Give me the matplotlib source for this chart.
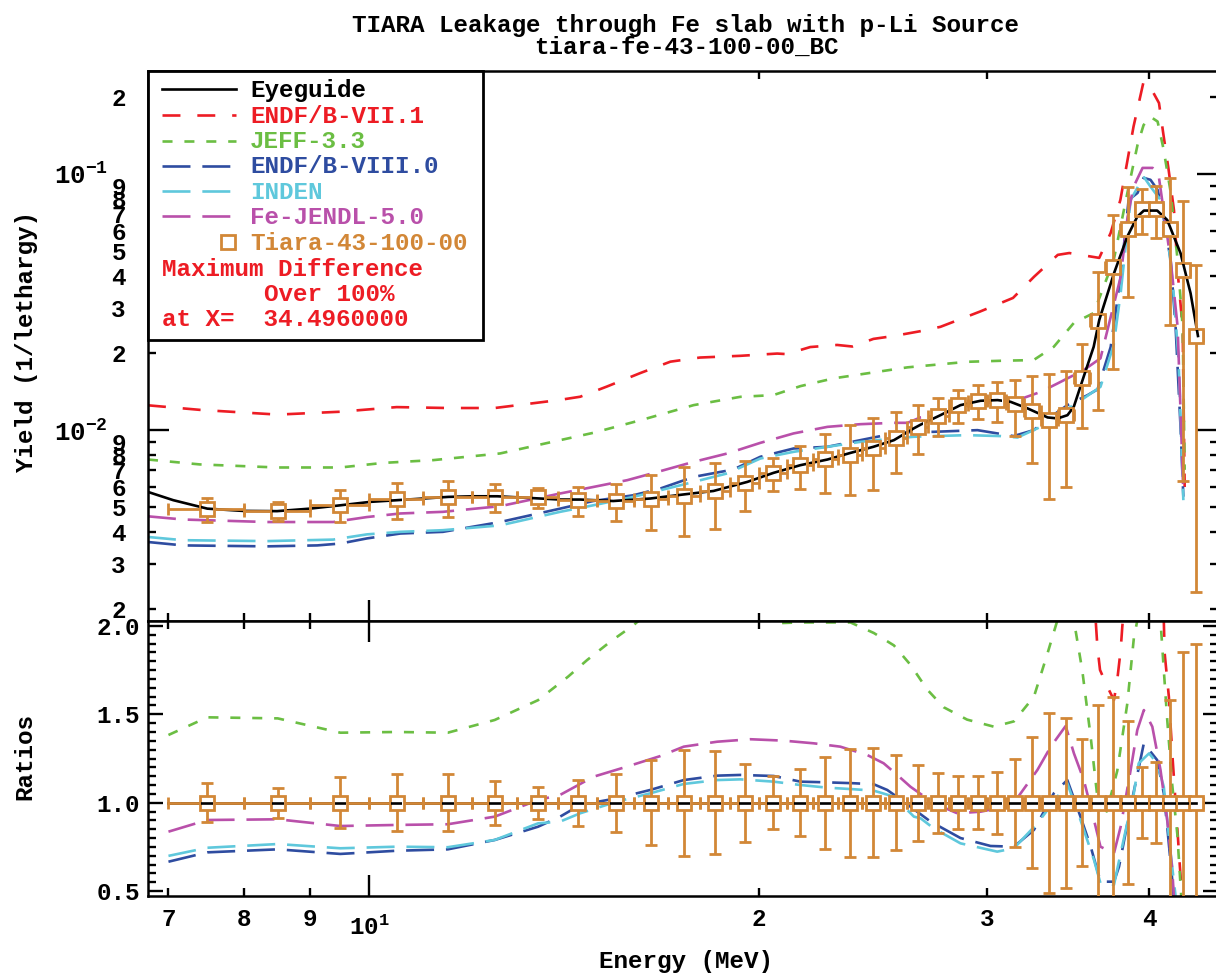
import numpy as np
import matplotlib
matplotlib.use("Agg")
import matplotlib.pyplot as plt
from matplotlib.ticker import FixedLocator, FixedFormatter, MultipleLocator, FormatStrFormatter
from matplotlib.patches import Rectangle
from matplotlib.path import Path
from matplotlib.transforms import IdentityTransform

plt.rcParams["font.family"] = ["Liberation Mono", "DejaVu Sans Mono"]
plt.rcParams["font.weight"] = "bold"
plt.rcParams["mathtext.fontset"] = "custom"
plt.rcParams["mathtext.rm"] = "Liberation Mono:bold"
plt.rcParams["mathtext.it"] = "Liberation Mono:bold"
plt.rcParams["mathtext.bf"] = "Liberation Mono:bold"
plt.rcParams["mathtext.default"] = "rm"

# ---------------- data ----------------
# experiment: Tiara-43-100-00, 1 MeV bins
exp_e = [7.5, 8.5, 9.5, 10.5, 11.5, 12.5, 13.5, 14.5, 15.5, 16.5, 17.5, 18.5, 19.5,
         20.5, 21.5, 22.5, 23.5, 24.5, 25.5, 26.5, 27.5, 28.5, 29.5, 30.5, 31.5, 32.5,
         33.5, 34.5, 35.5, 36.5, 37.5, 38.5, 39.5, 40.5, 41.5, 42.5, 43.5]
exp_y = [0.00491, 0.00483, 0.00512, 0.00538, 0.00547, 0.00550, 0.00547, 0.00533, 0.00528,
         0.00538, 0.00552, 0.00578, 0.00621, 0.00679, 0.00730, 0.00770, 0.00800, 0.00850,
         0.00930, 0.01030, 0.01140, 0.01250, 0.01300, 0.01310, 0.01260, 0.01185, 0.01095,
         0.01150, 0.01600, 0.02670, 0.04330, 0.06100, 0.07300, 0.07300, 0.06100, 0.04220,
         0.02330]
exp_err_pct = [11, 8.5, 14.5, 16, 16, 12.5, 9, 13, 16.5, 24, 30, 29, 22, 15, 19, 26, 30.5,
               31, 27, 21.5, 17, 15, 15, 17.5, 25, 37, 51, 48, 36, 55, 60, 46, 20, 23, 58,
               85, 90]
exp_half_bin = 0.5

# eyeguide
eye_e = [6.75, 7.06, 7.5, 7.99, 8.49, 9.0, 9.5, 10.02, 10.51, 11.01, 11.51, 12.03, 12.56,
         14.04, 14.55, 15.43, 16.48, 17.48, 18.44, 19.58, 20.51, 21.52, 22.58, 23.52, 24.5,
         25.41, 26.31, 26.64, 27.6, 28.6, 29.64, 30.55, 31.26, 32.22, 33.39, 33.99, 34.59,
         34.98, 35.6, 36.24, 36.6, 37.57, 38.47, 39.16, 39.62, 40.57, 41.3, 42.29, 43.05,
         43.62]
eye_y = [0.00574, 0.00533, 0.00494, 0.00484, 0.00483, 0.00494, 0.00509, 0.00525, 0.00533,
         0.00541, 0.00549, 0.00552, 0.00552, 0.00536, 0.00536, 0.00529, 0.00541, 0.00561,
         0.00579, 0.00628, 0.00681, 0.0073, 0.00768, 0.00815, 0.00861, 0.00914, 0.01015,
         0.0105, 0.01144, 0.01252, 0.01302, 0.0131, 0.0129, 0.01216, 0.01121, 0.01111,
         0.01144, 0.01233, 0.01615, 0.02115, 0.0269, 0.0409, 0.0569, 0.0681, 0.0719, 0.0719,
         0.0661, 0.049, 0.0342, 0.0233]

# calculations, upper panel
endf71_e = [6.75, 7.4, 8.5, 9.5, 10.5, 11.5, 12.5, 14.0, 14.55, 15.26, 16.19, 17.08, 18.0,
            19.34, 20.65, 21.0, 21.9, 22.97, 23.6, 24.5, 25.4, 26.6, 27.6, 29.6, 31.4, 32.6,
            34.0, 34.7, 36.6, 37.35, 38.0, 38.9, 39.6, 40.3, 40.7, 41.0, 41.4, 41.8, 42.1,
            42.45, 42.6]
endf71_y = [0.0125, 0.0120, 0.0115, 0.0118, 0.0123, 0.0122, 0.0122, 0.0131, 0.0135, 0.0148,
            0.0167, 0.0185, 0.0192, 0.0195, 0.0199, 0.0198, 0.0211, 0.0215, 0.0212, 0.0227,
            0.0233, 0.0243, 0.0253, 0.0290, 0.0328, 0.0397, 0.0483, 0.0491, 0.0470, 0.0588,
            0.0791, 0.153, 0.229, 0.207, 0.189, 0.145, 0.104, 0.072, 0.040, 0.025, 0.006]

jeff_e = [6.75, 7.4, 8.49, 9.5, 10.25, 11.21, 12.62, 14.04, 14.89, 16.28, 17.8, 19.34, 20.51,
          21.52, 22.82, 24.68, 26.03, 28.95, 30.72, 32.57, 33.76, 34.98, 36.24, 37.55, 38.49,
          39.18, 39.6, 40.09, 40.6, 41.03, 41.55, 42.07, 42.45, 42.6]
jeff_y = [0.00768, 0.00735, 0.00715, 0.00715, 0.00745, 0.00764, 0.00811, 0.00914, 0.00976,
          0.01101, 0.01252, 0.01349, 0.0137, 0.01485, 0.01592, 0.01689, 0.01758, 0.01848,
          0.01865, 0.01877, 0.02115, 0.02618, 0.02864, 0.046, 0.085, 0.13, 0.155, 0.167,
          0.160, 0.125, 0.085, 0.046, 0.0253, 0.007]

endf80_e = [6.75, 7.184, 8.34, 9.118, 9.5, 9.96, 10.57, 11.4, 12.62, 14.04, 14.89, 15.99,
            16.78, 17.8, 19.1, 20.04, 21.26, 22.58, 23.94, 25.41, 26.31, 27.26, 29.48, 31.43,
            32.57, 33.58, 34.59, 35.85, 36.49, 37.35, 38.02, 38.56, 39.18, 39.6, 40.09, 40.6,
            41.03, 41.55, 41.92, 42.3, 42.5]
endf80_y = [0.00366, 0.00355, 0.00352, 0.00355, 0.00361, 0.00378, 0.00395, 0.00401, 0.00438,
            0.00494, 0.00529, 0.00557, 0.00592, 0.00657, 0.00702, 0.00787, 0.00848, 0.00861,
            0.00914, 0.00971, 0.00985, 0.00985, 0.0100, 0.00948, 0.0100, 0.01127, 0.01252,
            0.0137, 0.01442, 0.0211, 0.0396, 0.0791, 0.0843, 0.0965, 0.0948, 0.0866, 0.0679,
            0.0461, 0.0253, 0.0100, 0.0055]

inden_e = [6.75, 7.184, 8.34, 9.38, 9.96, 10.57, 11.4, 12.62, 14.04, 14.89, 15.99, 16.99,
           17.8, 18.9, 20.04, 21.26, 22.58, 23.94, 25.41, 26.31, 27.26, 28.95, 30.72, 31.65,
           32.98, 34.17, 35.6, 36.68, 37.55, 38.02, 38.7, 39.6, 40.09, 40.81, 41.32, 41.77,
           42.14, 42.5]
inden_y = [0.00383, 0.00372, 0.00369, 0.00374, 0.00392, 0.00401, 0.00407, 0.00425, 0.0048,
           0.00509, 0.00549, 0.00592, 0.00628, 0.00678, 0.00775, 0.00823, 0.00861, 0.009,
           0.00928, 0.00942, 0.00948, 0.00956, 0.00948, 0.00936, 0.0103, 0.01162, 0.0133,
           0.01476, 0.0215, 0.0343, 0.0791, 0.0976, 0.0892, 0.0791, 0.0588, 0.0343, 0.0188,
           0.00533]

jendl_e = [6.75, 7.184, 8.34, 9.38, 9.96, 10.57, 11.4, 12.62, 14.04, 14.89, 15.82, 16.78,
           17.8, 18.9, 20.04, 21.26, 22.58, 23.94, 25.41, 26.03, 26.64, 27.26, 28.95, 30.33,
           31.65, 32.98, 33.99, 35.6, 36.68, 37.14, 38.02, 38.49, 38.9, 39.53, 40.24, 40.67,
           41.03, 41.55, 42.07, 42.5]
jendl_y = [0.00461, 0.00448, 0.00438, 0.00438, 0.00458, 0.00473, 0.0048, 0.00505, 0.00566,
           0.006, 0.00638, 0.00692, 0.00752, 0.00811, 0.00892, 0.00971, 0.0103, 0.01055,
           0.01068, 0.01068, 0.01121, 0.01134, 0.01233, 0.0129, 0.0131, 0.0141, 0.01522,
           0.01715, 0.01906, 0.0246, 0.0396, 0.0679, 0.089, 0.1055, 0.1055, 0.0991, 0.0723,
           0.0461, 0.0253, 0.00568]

# ratios, lower panel
r_eye_e = [7.0, 43.5]
r_eye = [1.0, 1.0]

r_endf71_e = [35.5, 36.37, 36.48, 36.65, 37.13, 37.57, 37.79, 38.02, 38.13, 39.0, 40.5,
              41.05, 41.11, 41.42, 41.67, 41.92, 42.24, 42.35, 42.5]
r_endf71 = [3.0, 2.03, 1.882, 1.751, 1.656, 1.581, 1.694, 1.864, 1.995, 2.8, 2.8, 2.03,
            1.847, 1.60, 1.281, 0.998, 0.638, 0.525, 0.3]

r_jeff_e = [7.0, 7.5, 8.5, 9.5, 10.5, 11.5, 12.5, 13.5, 14.24, 14.73, 15.35, 16.0, 17.5, 19.0,
            20.52, 21.52, 22.57, 23.52, 24.52, 25.41, 26.17, 26.96, 27.76, 28.94, 30.35,
            31.45, 32.59, 33.37, 33.97, 34.5, 34.99, 35.51, 36.05, 36.48, 37.09, 37.79, 38.47,
            38.92, 39.16, 40.0, 40.81, 41.05, 41.3, 41.67, 42.05, 42.29, 42.5]
r_jeff = [1.383, 1.483, 1.477, 1.396, 1.40, 1.396, 1.468, 1.58, 1.713, 1.807, 1.911, 2.005,
          2.25, 2.2, 2.015, 2.02, 2.02, 2.02, 1.96, 1.89, 1.78, 1.64, 1.54, 1.47, 1.43, 1.46,
          1.60, 1.84, 2.03, 2.4, 2.03, 1.75, 1.37, 1.03, 0.95, 1.18, 1.56, 1.93, 2.03, 2.6,
          2.03, 1.75, 1.47, 1.10, 0.82, 0.53, 0.3]

r_endf80_e = [7.0, 7.5, 8.5, 9.5, 10.5, 11.5, 12.5, 13.5, 14.04, 14.55, 15.53, 16.48, 17.49,
              18.56, 19.34, 20.52, 21.52, 22.57, 23.66, 24.52, 25.11, 25.75, 27.12, 28.6,
              30.17, 31.45, 32.59, 33.76, 34.58, 35.4, 36.05, 36.68, 37.57, 37.91, 38.7,
              39.62, 40.57, 41.05, 41.3, 41.67, 41.79]
r_endf80 = [0.666, 0.719, 0.736, 0.71, 0.728, 0.736, 0.789, 0.864, 0.921, 0.987, 1.025,
            1.072, 1.128, 1.153, 1.157, 1.151, 1.119, 1.115, 1.11, 1.104, 1.072, 1.015,
            0.893, 0.80, 0.755, 0.751, 0.846, 1.053, 1.128, 0.921, 0.751, 0.553, 0.553,
            0.638, 0.977, 1.336, 1.241, 1.053, 0.864, 0.563, 0.45]

r_inden_e = [7.0, 7.5, 8.5, 9.5, 10.5, 11.5, 12.5, 13.5, 14.04, 14.55, 15.53, 16.48, 17.49,
             18.56, 19.34, 20.52, 21.52, 22.57, 23.66, 24.52, 25.41, 26.33, 26.64, 27.27,
             28.6, 30.53, 31.45, 32.79, 33.76, 34.58, 35.4, 36.26, 36.68, 37.57, 38.02, 38.92,
             39.26, 39.99, 40.57, 41.05, 41.55, 41.92]
r_inden = [0.699, 0.745, 0.766, 0.742, 0.751, 0.748, 0.789, 0.883, 0.893, 0.94, 1.006, 1.053,
           1.106, 1.128, 1.132, 1.119, 1.10, 1.085, 1.076, 1.068, 1.034, 0.921, 0.912, 0.855,
           0.77, 0.723, 0.742, 0.883, 1.006, 1.11, 0.902, 0.676, 0.544, 0.535, 0.714, 1.053,
           1.223, 1.279, 1.223, 1.09, 0.714, 0.47]

r_jendl_e = [7.0, 7.5, 8.5, 9.5, 10.5, 11.5, 12.5, 13.5, 14.04, 14.9, 15.81, 16.78, 17.49,
             18.56, 19.69, 20.89, 22.03, 23.1, 24.23, 24.95, 25.56, 26.17, 27.27, 28.44,
             29.64, 30.53, 31.63, 32.79, 33.58, 34.48, 34.99, 35.61, 36.26, 36.68, 37.57,
             38.02, 38.7, 39.16, 39.62, 40.22, 40.81, 41.3, 41.67, 41.79]
r_jendl = [0.836, 0.902, 0.906, 0.868, 0.874, 0.878, 0.921, 1.015, 1.044, 1.147, 1.204, 1.264,
           1.317, 1.345, 1.359, 1.351, 1.336, 1.317, 1.27, 1.223, 1.157, 1.09, 0.997, 0.94,
           0.949, 0.968, 1.025, 1.185, 1.317, 1.434, 1.279, 1.128, 0.902, 0.751, 0.714, 0.864,
           1.185, 1.411, 1.524, 1.43, 1.185, 0.902, 0.62, 0.47]

# ticks
x_minor = [7, 8, 9, 20, 30, 40]
x_minor_labels = ["7", "8", "9", "2", "3", "4"]
y_major = [0.01, 0.1]
y_major_labels = [r"$10^{-2}$", r"$10^{-1}$"]
y_mantissa = [2, 3, 4, 5, 6, 7, 8, 9]

max_diff_text = ["Maximum Difference", "Over 100%", "at X=  34.4960000"]

# ---------------- styles ----------------
ORANGE = "#D28737"
RED = "#ED1C24"
GREEN = "#6BBE43"
BLUE = "#2E4CA0"
CYAN = "#5FC8DC"
MAGENTA = "#B950AA"
LW = 1.9
LONG = (10.6, 4.5)

calcs = [
    ("ENDF/B-VII.1", endf71_e, endf71_y, r_endf71_e, r_endf71, RED, (6.8, 6.4)),
    ("JEFF-3.3", jeff_e, jeff_y, r_jeff_e, r_jeff, GREEN, (3.8, 4.5)),
    ("ENDF/B-VIII.0", endf80_e, endf80_y, r_endf80_e, r_endf80, BLUE, LONG),
    ("INDEN", inden_e, inden_y, r_inden_e, r_inden, CYAN, LONG),
    ("Fe-JENDL-5.0", jendl_e, jendl_y, r_jendl_e, r_jendl, MAGENTA, LONG),
]

W, H = 1216, 974
fig = plt.figure(figsize=(W / 100, H / 100), dpi=100)


def rect(l, t, r, b):
    return [l / W, 1 - b / H, (r - l) / W, (b - t) / H]


ax1 = fig.add_axes(rect(148, 71, 1218, 621))
ax2 = fig.add_axes(rect(148, 621, 1218, 896))

for ax in (ax1, ax2):
    ax.set_xscale("log")
    ax.set_xlim(6.75, 45.2)
ax1.set_yscale("log")
ax1.set_ylim(0.0018, 0.252)
ax2.set_ylim(0.472, 2.028)

exp_e = np.array(exp_e)
exp_y = np.array(exp_y)
rel_err = np.array(exp_err_pct) / 100.0
ratio_one = np.ones_like(exp_e)

# curves
for label, e, y, re, r, c, d in calcs:
    ax1.plot(e, y, color=c, lw=LW, dashes=d, zorder=2)
    ax2.plot(re, r, color=c, lw=LW, dashes=d, zorder=2)

ax1.plot(eye_e, eye_y, color="black", lw=LW, zorder=2.5)
ax2.plot(r_eye_e, r_eye, color="black", lw=LW, zorder=2.5)

err_kw = dict(fmt="none", ecolor=ORANGE, elinewidth=2.0, capsize=4, capthick=2.0, zorder=3)
mk_kw = dict(ls="none", marker="s", ms=10.5, mfc="white", mec=ORANGE, mew=2.0, zorder=4)
ax1.errorbar(exp_e, exp_y, xerr=exp_half_bin, yerr=exp_y * rel_err, **err_kw)
ax1.plot(exp_e, exp_y, **mk_kw)
ax2.errorbar(exp_e, ratio_one, xerr=exp_half_bin, yerr=rel_err, **err_kw)
ax2.plot(exp_e, ratio_one, **mk_kw)


def square_path(ax, xs, ys, half=5.8):
    pts = ax.transData.transform(np.column_stack([xs, ys]))
    verts, codes = [], []
    for px, py in pts:
        verts += [(px - half, py - half), (px + half, py - half),
                  (px + half, py + half), (px - half, py + half), (0, 0)]
        codes += [Path.MOVETO, Path.LINETO, Path.LINETO, Path.LINETO, Path.CLOSEPOLY]
    return Path(verts, codes)


# eyeguide seen through the open squares
ln1, = ax1.plot(eye_e, eye_y, color="black", lw=LW, zorder=5)
ln1.set_clip_path(square_path(ax1, exp_e, exp_y), IdentityTransform())
ln2, = ax2.plot(r_eye_e, r_eye, color="black", lw=LW, zorder=5)
ln2.set_clip_path(square_path(ax2, exp_e, ratio_one), IdentityTransform())

# ---------------- axes styling ----------------
fs = 17.5
for ax in (ax1, ax2):
    ax.xaxis.set_major_locator(FixedLocator([10]))
    ax.xaxis.set_minor_locator(FixedLocator(x_minor))
    ax.xaxis.set_major_formatter(FixedFormatter([r"$10^{1}$"]))
    ax.xaxis.set_minor_formatter(FixedFormatter(x_minor_labels))
    ax.tick_params(which="both", direction="in", top=True, right=True, width=1.7,
                   labelsize=fs)
    ax.tick_params(axis="x", which="major", length=15, pad=14)
    ax.tick_params(axis="x", which="minor", length=5.5, pad=9)
    for s in ax.spines.values():
        s.set_linewidth(1.8)
ax1.tick_params(axis="x", which="both", labelbottom=False)

y_minor = [m * 10.0 ** p for p in (-3, -2, -1) for m in y_mantissa if m * 10.0 ** p < 0.25]
y_minor_labels = [str(m) for p in (-3, -2, -1) for m in y_mantissa if m * 10.0 ** p < 0.25]
ax1.yaxis.set_major_locator(FixedLocator(y_major))
ax1.yaxis.set_major_formatter(FixedFormatter(y_major_labels))
ax1.yaxis.set_minor_locator(FixedLocator(y_minor))
ax1.yaxis.set_minor_formatter(FixedFormatter(y_minor_labels))
ax1.tick_params(axis="y", which="major", length=15, pad=29, labelsize=fs + 1)
ax1.tick_params(axis="y", which="minor", length=5.5, pad=16)

ax2.yaxis.set_major_locator(FixedLocator([0.5, 1.0, 1.5, 2.0]))
ax2.yaxis.set_major_formatter(FormatStrFormatter("%.1f"))
ax2.yaxis.set_minor_locator(MultipleLocator(0.05))
ax2.tick_params(axis="y", which="major", length=11, pad=6)
ax2.tick_params(axis="y", which="minor", length=5.5)

# ---------------- texts ----------------
fig.text(686 / W, 1 - 32 / H, "TIARA Leakage through Fe slab with p-Li Source",
         ha="center", va="baseline", fontsize=fs)
fig.text(686 / W, 1 - 54 / H, "tiara-fe-43-100-00_BC", ha="center", va="baseline",
         fontsize=fs)
fig.text(686 / W, 1 - 968 / H, "Energy (MeV)", ha="center", va="baseline", fontsize=fs)
fig.text(27 / W, 1 - 342 / H, "Yield (1/lethargy)", rotation=90, ha="center",
         va="center", fontsize=fs)
fig.text(25 / W, 1 - 757 / H, "Ratios", rotation=90, ha="center", va="center", fontsize=fs)

# ---------------- legend box ----------------
def axp(px, py):
    return (px - 148) / 1070, (621 - py) / 550


x0, y0 = axp(148, 340)
x1, y1 = axp(483, 71)
ax1.add_patch(Rectangle((x0, y0), x1 - x0, y1 - y0, transform=ax1.transAxes,
                        fc="white", ec="black", lw=2.0, zorder=10, clip_on=False))

entries = [("Eyeguide", "black", None)] + [(c[0], c[5], c[6]) for c in calcs]
rows_line = [89, 115, 141, 166, 191, 216]
rows_text = [97, 123, 148, 173, 199, 224]
for (label, c, d), yl, yt in zip(entries, rows_line, rows_text):
    xa, ya = axp(162, yl)
    xb, _ = axp(236, yl)
    kw = dict(color=c, lw=LW, transform=ax1.transAxes, zorder=11, clip_on=False)
    if d is not None:
        kw["dashes"] = d
    ax1.plot([xa, xb], [ya, ya], **kw)
    tx, ty = axp(250, yt)
    ax1.text(tx, ty, label, color=c, fontsize=fs, va="baseline", ha="left",
             transform=ax1.transAxes, zorder=11)

mx, my = axp(228, 242)
ax1.plot([mx], [my], transform=ax1.transAxes, zorder=11, clip_on=False,
         **{k: v for k, v in mk_kw.items() if k != "zorder"})
tx, ty = axp(250, 250)
ax1.text(tx, ty, "Tiara-43-100-00", color=ORANGE, fontsize=fs, va="baseline",
         transform=ax1.transAxes, zorder=11)

for txt, px, py in zip(max_diff_text, [162, 264, 162], [276, 301, 326]):
    tx, ty = axp(px, py)
    ax1.text(tx, ty, txt, color=RED, fontsize=fs, va="baseline",
             transform=ax1.transAxes, zorder=11)

fig.savefig("out.png", dpi=100)
